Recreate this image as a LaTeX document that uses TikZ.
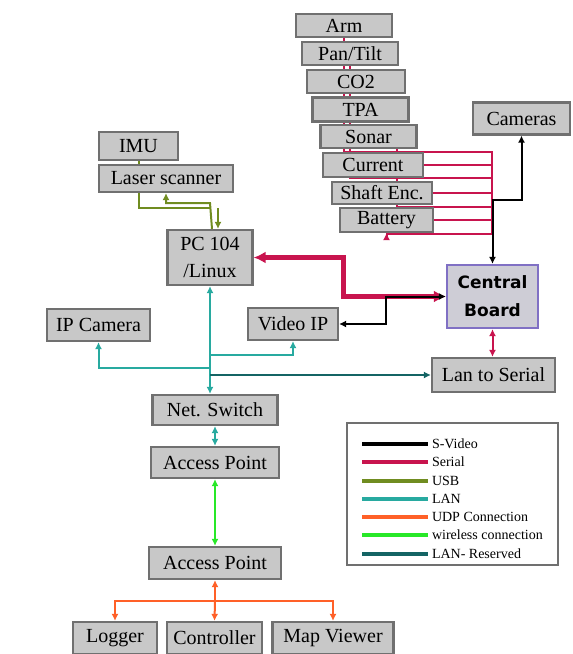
\documentclass[tikz,border=0pt]{standalone}
\usepackage{fontspec}
\setmainfont{Liberation Serif}
\newfontfamily\boardfont{DejaVu Sans}
\usetikzlibrary{arrows.meta,backgrounds}

\definecolor{boxfill}{RGB}{200,200,200}
\definecolor{boxline}{RGB}{112,112,112}
\definecolor{boardfill}{RGB}{206,205,214}
\definecolor{boardline}{RGB}{128,112,196}
\definecolor{serialcol}{RGB}{200,20,78}
\definecolor{usbcol}{RGB}{112,140,32}
\definecolor{lancol}{RGB}{40,170,160}
\definecolor{udpcol}{RGB}{255,96,40}
\definecolor{wificol}{RGB}{40,232,40}
\definecolor{rescol}{RGB}{20,100,100}

\begin{document}
\begin{tikzpicture}[
  x=0.5pt, y=-0.5pt,
  > = {Latex[length=3.5pt,width=3.5pt]},
  box/.style = {draw=boxline, fill=boxfill, line width=1.1pt, inner sep=0pt,
                font=\fontsize{10}{13.5}\selectfont, align=center},
  sensor/.style = {box, minimum width=48pt, minimum height=11.5pt},
  unit/.style = {box, minimum height=16pt},
  client/.style = {box, minimum height=16pt},
  key/.style = {right, inner sep=1pt, font=\fontsize{7}{8}\selectfont},
  svideo/.style = {draw=black, line width=1pt},
  serial/.style = {draw=serialcol, line width=1pt},
  usb/.style = {draw=usbcol, line width=1pt},
  lan/.style = {draw=lancol, line width=1pt},
  udp/.style = {draw=udpcol, line width=1pt},
  wifi/.style = {draw=wificol, line width=1pt},
  reserved/.style = {draw=rescol, line width=1pt}
  ]
  \useasboundingbox (0,0) rectangle (573,654);

  % sensor stack
  \node[sensor] (arm) at (344,25.5) {Arm};
  \node[sensor] (pantilt) at (350,53.5) {Pan/Tilt};
  \node[sensor, minimum width=49pt] (co2) at (356,81.5) {CO2};
  \node[sensor, minimum height=12pt] (tpa) at (360.5,109.5) {TPA};
  \node[sensor] (sonar) at (368.5,136.5) {Sonar};
  \node[sensor, minimum width=50pt, minimum height=12pt] (current) at (373,165) {Current};
  \node[sensor, minimum width=50pt, minimum height=11pt] (shaft) at (382,193) {Shaft Enc.};
  \node[sensor, minimum width=46.5pt, minimum height=12pt] (battery) at (386.5,220) {Battery};
  \node[unit, minimum width=48.5pt] (cameras) at (521.5,118.5) {Cameras};

  % computer side
  \node[box, minimum width=39.5pt, minimum height=14pt] (imu) at (138.5,146) {IMU};
  \node[box, minimum width=67pt, minimum height=13.5pt] (laser) at (166,178.5) {Laser scanner};
  \node[box, minimum width=42.5pt, minimum height=27.5pt] (pc) at (210,257.5) {PC 104\\/Linux};
  \node[draw=boardline, fill=boardfill, line width=1.1pt, minimum width=45.5pt,
        minimum height=31.5pt, align=center,
        font=\boardfont\bfseries\fontsize{8.5}{14}\selectfont] (board) at (492.5,296.5) {Central\\Board};
  \node[unit, minimum width=51.5pt] (ipcam) at (98.5,325) {IP Camera};
  \node[unit, minimum width=45pt] (videoip) at (293,324) {Video IP};
  \node[unit, minimum width=61.5pt, minimum height=17pt] (lan2ser) at (493.5,375) {Lan to Serial};
  \node[unit, minimum width=62.5pt, minimum height=15pt] (switch) at (215,410) {Net. Switch};
  \node[unit, minimum width=64pt, minimum height=15.5pt] (ap1) at (215,462.5) {Access Point};
  \node[unit, minimum width=66pt] (ap2) at (215,563) {Access Point};
  \node[client, minimum width=42pt] (logger) at (115,638) {Logger};
  \node[client, minimum width=47.5pt] (controller) at (214.5,638) {Controller};
  \node[client, minimum width=60.5pt] (mapviewer) at (333,638) {Map Viewer};

  \begin{scope}[on background layer]
    % serial bus
    \coordinate (bustop) at (492,152);
    \coordinate (busbot) at (492,234);
    \draw[serial] (arm.south) |- (bustop) -- (busbot);
    \draw[serial] (current.east) -- (current.east -| bustop);
    \draw[serial] (pantilt.south) |- (0,178 -| bustop);
    \draw[serial] (shaft.east) -- (shaft.east -| bustop);
    \draw[serial] ([xshift=14pt]sonar.south) |- (0,207 -| bustop);
    \draw[serial] (battery.east) -- (battery.east -| bustop);
    \draw[serial,->] (busbot) -| (battery.south);

    % s-video
    \coordinate (vjoin) at (492.5,200);
    \draw[svideo,<->] (cameras.south) |- (vjoin) -- (board.north);

    % usb
    \draw[usb,->] (imu.south) |- (0,208 -| pc.north) ++(8,0) coordinate (usbr) -- (usbr |- pc.north);
    \draw[usb,<-] (laser.south) |- (0,203 -| pc.north) -- ([xshift=1pt]pc.north);
  \end{scope}

  % pc to board
  \draw[serial,line width=2.2pt,<->,>={Latex[length=6pt,width=6pt]}] (pc.east) -- ++(90,0) |- (board.west);
  \draw[svideo,<->] (board.west) -- ++(-60,0) |- (videoip.east);
  \draw[serial,<->] (board.south) -- (board.south |- lan2ser.north);

  % lan
  \draw[lan,<->] (pc.south) -- (pc.south |- switch.north);
  \draw[lan,->] (pc.south |- 0,355) -| (videoip.south);
  \draw[lan,->] (pc.south |- 0,368) -| (ipcam.south);
  \draw[reserved,->] (pc.south |- lan2ser.west) -- (lan2ser.west);
  \draw[lan,<->] (switch.south) -- (ap1.north);

  % wireless and udp
  \draw[wifi,<->] (ap1.south) -- (ap2.north);
  \coordinate (udp) at (215,601);
  \draw[udp,<-] (ap2.south) -- (udp);
  \draw[udp,->] (udp) -| (logger.north);
  \draw[udp,->] (udp) -| (mapviewer.north);
  \draw[udp,->] (udp) -- (controller.north);

  % legend
  \node[draw=boxline, line width=0.8pt, minimum width=105.5pt, minimum height=71pt,
        inner sep=0pt] (legend) at (452.5,494) {};
  \draw[svideo,line width=2pt] (362,444) -- (428,444) node[key] (ksvideo) {S-Video};
  \draw[serial,line width=2pt] (362,462) -- (428,462) node[key] (kserial) {Serial};
  \draw[usb,line width=2pt] (362,481) -- (428,481) node[key] (kusb) {USB};
  \draw[lan,line width=2pt] (362,499) -- (428,499) node[key] (klan) {LAN};
  \draw[udp,line width=2pt] (362,517) -- (428,517) node[key] (kudp) {UDP Connection};
  \draw[wifi,line width=2pt] (362,535) -- (428,535) node[key] (kwifi) {wireless connection};
  \draw[reserved,line width=2pt] (362,554) -- (428,554) node[key] (kres) {LAN- Reserved};
\end{tikzpicture}
\end{document}
